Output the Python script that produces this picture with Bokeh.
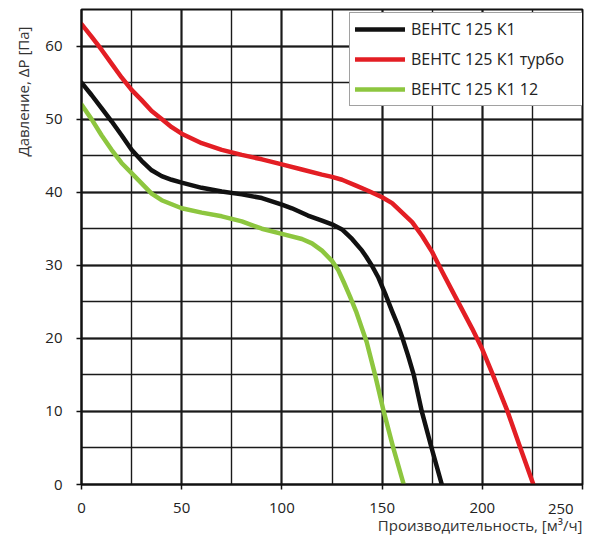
import math
from bokeh.plotting import figure
from bokeh.models import (Range1d, SingleIntervalTicker, FixedTicker, LinearAxis,
                          Legend, LegendItem, Title, ColumnDataSource)
from bokeh.embed import file_html
from bokeh.resources import INLINE

# --- data ---
black_x = [0, 5, 10, 15, 20, 25, 30, 35, 40, 45, 50, 60, 70, 80, 90, 100, 105,
           113, 120, 125, 130, 135, 140, 142, 145, 148, 150, 152, 155, 158,
           160.2, 163, 165.8, 169.8, 174.7, 179.8]
black_y = [55, 53.3, 51.5, 49.7, 47.8, 45.8, 44.3, 43.0, 42.2, 41.7, 41.3, 40.6,
           40.1, 39.7, 39.2, 38.3, 37.8, 36.8, 36.1, 35.6, 34.9, 33.6, 32.0,
           31.2, 29.9, 28.4, 27.1, 25.8, 23.7, 21.7, 20, 17.6, 15, 10, 5, 0]

red_x = [0, 5, 10, 15, 20, 25, 30, 35, 40, 45, 50, 60, 70, 80, 90, 100, 110,
         120, 125, 130, 137, 143, 150, 155, 160, 165, 170, 175, 180, 185, 190,
         195, 200, 205.3, 212.6, 219, 225.5]
red_y = [63, 61.3, 59.5, 57.6, 55.7, 54, 52.6, 51.1, 50, 48.9, 48, 46.7, 45.8,
         45.1, 44.5, 43.8, 43.1, 42.4, 42.1, 41.7, 40.9, 40.2, 39.3, 38.5, 37.2,
         35.9, 34.0, 31.8, 29.1, 26.5, 23.9, 21.3, 18.5, 15, 10, 5, 0]

green_x = [0, 5, 10, 15, 20, 25, 30, 35, 40, 50, 60, 70, 80, 90, 100, 110, 115,
           120, 125, 128, 131, 134, 137, 140, 142.3, 146.5, 150.8, 155.6, 160.8]
green_y = [52, 50, 47.8, 45.8, 44, 42.6, 41.2, 39.8, 38.9, 37.8, 37.2, 36.7,
           36.0, 35.0, 34.3, 33.6, 33.0, 32.0, 30.6, 29.4, 27.6, 25.7, 23.7,
           21.3, 19.5, 15, 10, 5, 0]

series_names = ["ВЕНТС 125 К1", "ВЕНТС 125 К1 турбо", "ВЕНТС 125 К1 12"]
series_colors = ["#111111", "#e31e24", "#8dc63f"]

x_label = "Производительность, [м³/ч]"
y_label = "Давление, ΔP [Па]"
x_last_tick = [250]

FONT = "Open Sans"

p = figure(width=584, height=537, x_range=Range1d(0, 250), y_range=Range1d(0, 65),
           output_backend="svg", toolbar_location=None,
           min_border_left=80, min_border_right=2, min_border_top=9,
           min_border_bottom=53)

p.background_fill_color = "white"
p.border_fill_color = "white"
p.outline_line_color = "#111111"
p.outline_line_width = 2

xt = SingleIntervalTicker(interval=50, num_minor_ticks=2)
yt = SingleIntervalTicker(interval=10, num_minor_ticks=2)
p.xaxis.ticker = xt
p.yaxis.ticker = yt
p.xgrid.ticker = xt
p.ygrid.ticker = yt

for g in (p.xgrid, p.ygrid):
    g.grid_line_color = "#1a1a1a"
    g.grid_line_width = 2
    g.minor_grid_line_color = "#1a1a1a"
    g.minor_grid_line_width = 1.4

for ax in (p.xaxis, p.yaxis):
    ax.axis_line_color = "#111111"
    ax.axis_line_width = 2
    ax.major_tick_line_color = "#111111"
    ax.major_tick_line_width = 1.5
    ax.major_tick_out = 5
    ax.major_tick_in = 0
    ax.minor_tick_line_color = None
    ax.major_label_text_font = FONT
    ax.major_label_text_font_size = "15px"
    ax.major_label_text_color = "#222222"
p.xaxis.major_label_standoff = 13
p.yaxis.major_label_standoff = 14
p.xaxis.major_label_overrides = {250: ""}

# second bottom axis carrying only the last tick label, right-aligned to its tick
ax2 = LinearAxis(ticker=FixedTicker(ticks=x_last_tick), axis_line_color=None,
                 major_tick_line_color=None, minor_tick_line_color=None,
                 major_tick_out=0, major_tick_in=0,
                 major_label_text_align="right", major_label_standoff=-12,
                 major_label_text_font=FONT, major_label_text_font_size="15px",
                 major_label_text_color="#222222")
p.add_layout(ax2, "below")

renderers = []
for xs, ys, c in [(black_x, black_y, series_colors[0]),
                  (red_x, red_y, series_colors[1]),
                  (green_x, green_y, series_colors[2])]:
    src = ColumnDataSource(dict(x=xs, y=ys))
    r = p.line("x", "y", source=src, line_color=c, line_width=4.5,
               line_join="round", line_cap="round")
    renderers.append(r)

legend = Legend(items=[LegendItem(label=n, renderers=[r])
                       for n, r in zip(series_names, renderers)],
                location=(268, 378))
legend.label_text_font = FONT
legend.label_text_font_size = "16px"
legend.label_text_color = "#222222"
legend.border_line_color = "#444444"
legend.border_line_width = 1.2
legend.background_fill_alpha = 1
legend.padding = 5
legend.spacing = 8
legend.glyph_width = 50
legend.glyph_height = 20
legend.label_height = 20
legend.label_width = 167
legend.label_standoff = 6
legend.margin = 0
p.add_layout(legend, "center")

xl = Title(text=x_label, align="right", text_font=FONT, text_font_size="15px",
           text_font_style="normal", text_color="#333333", standoff=-8)
p.add_layout(xl, "below")

yl = Title(text=y_label, align="right", text_font=FONT, text_font_size="15px",
           text_font_style="normal", text_color="#333333", standoff=20,
           offset=17)
p.add_layout(yl, "left")

open("out.html", "w").write(file_html(p, INLINE))
